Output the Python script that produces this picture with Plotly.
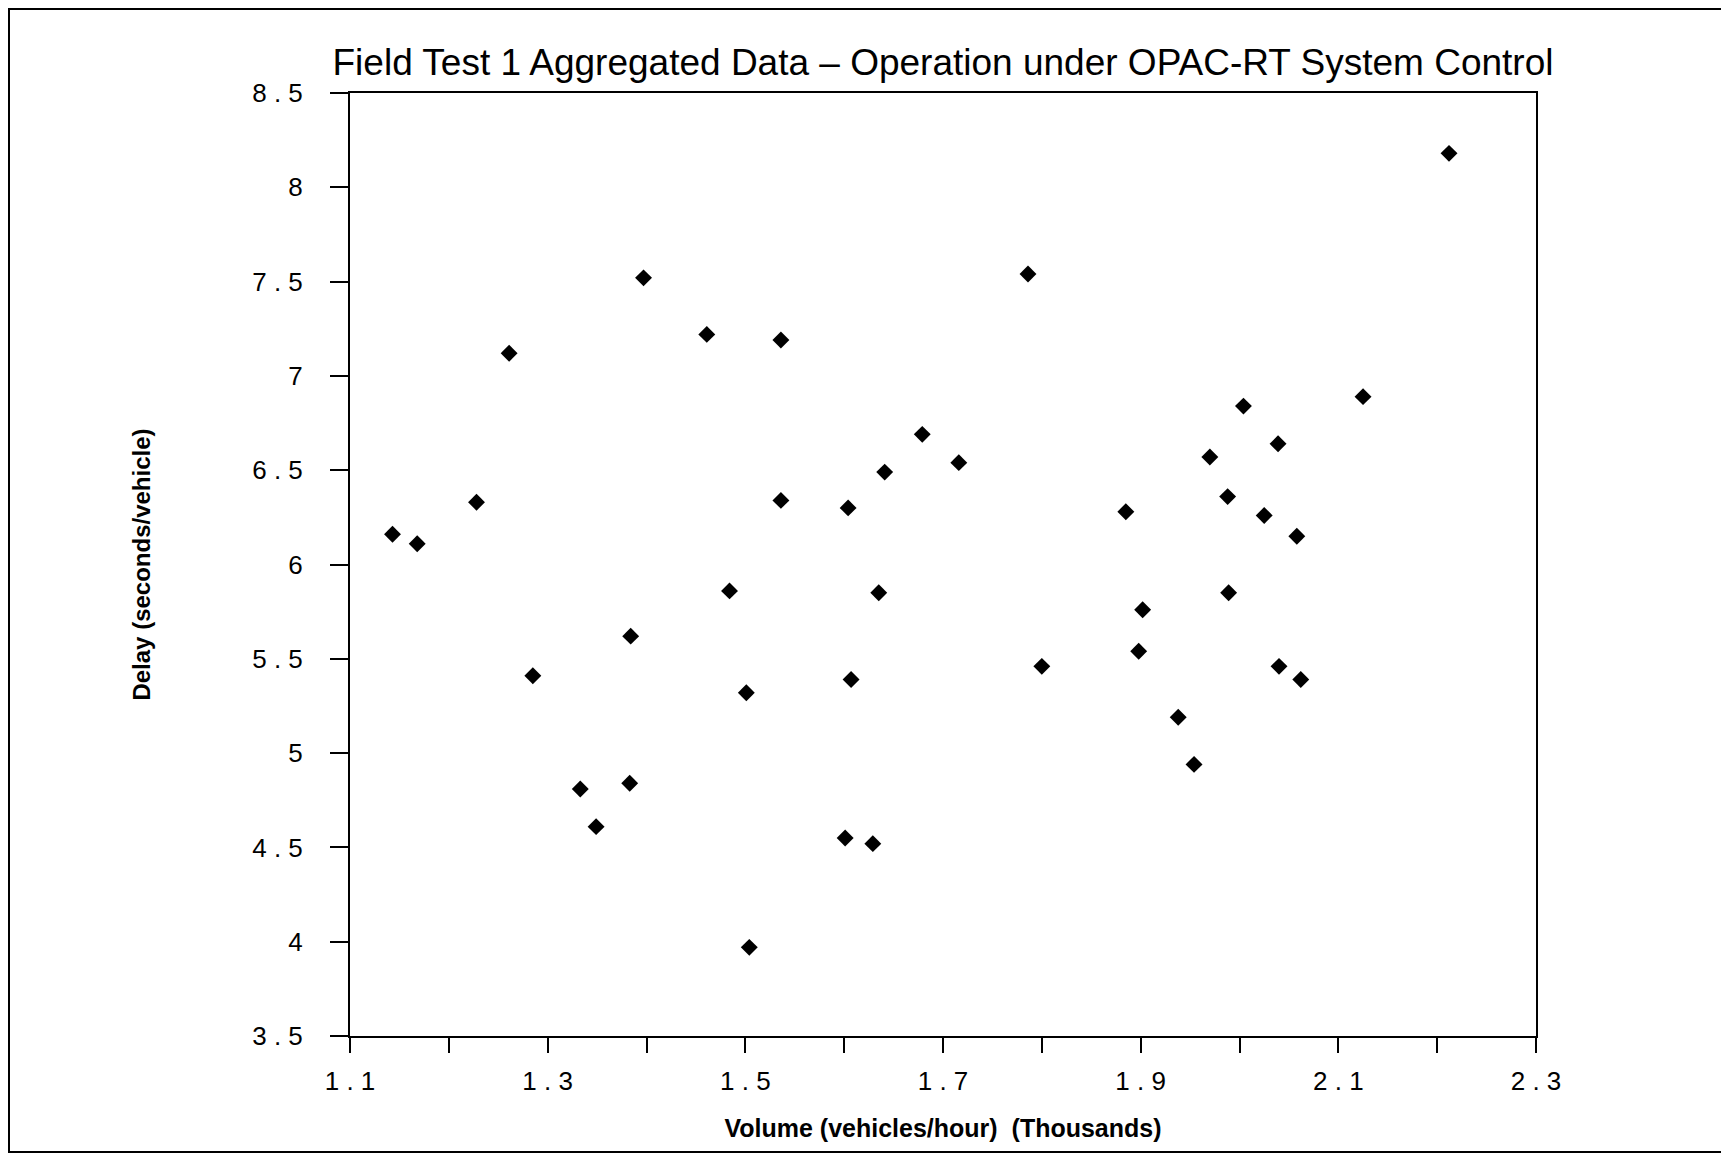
import plotly.graph_objects as go

# Data (Volume in thousands veh/h, Delay in s/veh)
volume = [1.143, 1.168, 1.228, 1.261, 1.285, 1.333, 1.349, 1.383, 1.384, 1.397,
          1.461, 1.484, 1.501, 1.504, 1.536, 1.536, 1.601, 1.604, 1.607, 1.629,
          1.635, 1.641, 1.679, 1.716, 1.786, 1.800, 1.885, 1.902, 1.898, 1.938,
          1.954, 1.970, 1.988, 1.989, 2.004, 2.025, 2.039, 2.040, 2.058, 2.062,
          2.125, 2.212]
delay = [6.16, 6.11, 6.33, 7.12, 5.41, 4.81, 4.61, 4.84, 5.62, 7.52,
         7.22, 5.86, 5.32, 3.97, 7.19, 6.34, 4.55, 6.30, 5.39, 4.52,
         5.85, 6.49, 6.69, 6.54, 7.54, 5.46, 6.28, 5.76, 5.54, 5.19,
         4.94, 6.57, 6.36, 5.85, 6.84, 6.26, 6.64, 5.46, 6.15, 5.39,
         6.89, 8.18]

x_ticks = [1.1, 1.3, 1.5, 1.7, 1.9, 2.1, 2.3]
x_tick_text = ["1.1", "1.3", "1.5", "1.7", "1.9", "2.1", "2.3"]
y_ticks = [3.5, 4, 4.5, 5, 5.5, 6, 6.5, 7, 7.5, 8, 8.5]
y_tick_text = ["3.5", "4", "4.5", "5", "5.5", "6", "6.5", "7", "7.5", "8", "8.5"]

title = "Field Test 1 Aggregated Data – Operation under OPAC-RT System Control"
x_title = "Volume (vehicles/hour)  (Thousands)"
y_title = "Delay (seconds/vehicle)"

def spaced(s):
    # the reference sets tick numbers with wide letter spacing
    return s.replace(".", " . ")

W, H = 1729, 1162
L, R, T, B = 342, 1528, 85, 1028  # plot area in figure pixels

fig = go.Figure()
fig.add_trace(go.Scatter(
    x=volume, y=delay, mode="markers",
    marker=dict(symbol="diamond", size=13, color="black", line=dict(width=0)),
    showlegend=False,
))

font = "Liberation Sans, Arial, sans-serif"

fig.update_layout(
    width=W, height=H,
    margin=dict(l=L, r=W - R, t=T, b=H - B, pad=0),
    paper_bgcolor="white", plot_bgcolor="white",
    title=dict(text=title, x=(L + R) / 2 / W, xanchor="center",
               y=1 - 54 / H, yanchor="middle", yref="container",
               font=dict(family=font, size=37, color="black")),
    font=dict(family=font, color="black"),
)

fig.update_xaxes(
    range=[1.1, 2.3], tickmode="array", tickvals=x_ticks,
    ticktext=[spaced(t) for t in x_tick_text],
    ticks="outside", ticklen=15, tickwidth=2, tickcolor="black",
    minor=dict(dtick=0.1, tick0=1.1, ticks="outside", ticklen=15, tickwidth=2, tickcolor="black"),
    showline=True, linecolor="black", linewidth=2, mirror=True,
    showgrid=False, zeroline=False, ticklabelstandoff=6,
    tickfont=dict(family=font, size=26, color="black"),
    title=dict(text=x_title, font=dict(family=font, size=25, color="black", weight="bold"), standoff=24),
)
fig.update_yaxes(
    range=[3.5, 8.5], tickmode="array", tickvals=y_ticks,
    ticktext=[spaced(t) for t in y_tick_text],
    ticks="outside", ticklen=18, tickwidth=2, tickcolor="black",
    showline=True, linecolor="black", linewidth=2, mirror=True,
    showgrid=False, zeroline=False, ticklabelstandoff=22,
    tickfont=dict(family=font, size=26, color="black"),
    title=dict(text=y_title, font=dict(family=font, size=24, color="black", weight="bold"), standoff=95),
)

# outer frame around the whole chart
pw, ph = R - L, B - T
def px_x(p):
    return (p - L) / pw
def px_y(p):
    return (B - p) / ph
fig.add_shape(type="rect", xref="paper", yref="paper",
              x0=px_x(1), x1=px_x(1745), y0=px_y(1144), y1=px_y(1),
              line=dict(color="black", width=2), fillcolor="rgba(0,0,0,0)")

fig.write_html("out.html")
